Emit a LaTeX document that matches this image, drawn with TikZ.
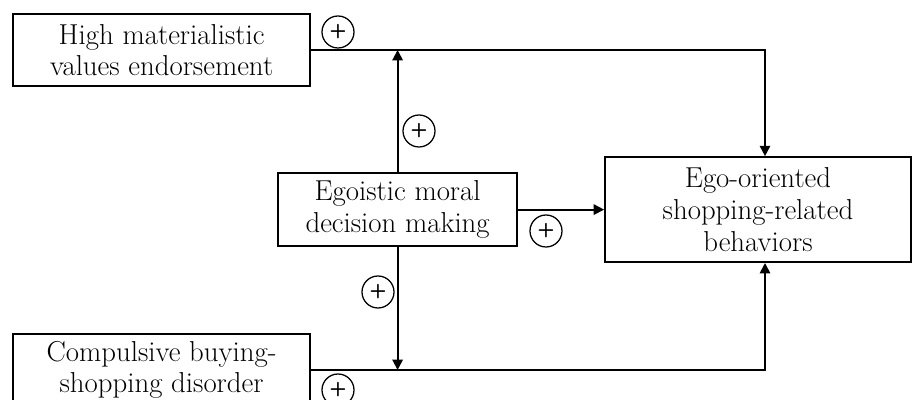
\documentclass[tikz,border=0pt]{standalone}
\usetikzlibrary{arrows.meta}

\begin{document}
\begin{tikzpicture}[line width=1.3pt,
	box/.style={draw, align=center, inner sep=0pt, font=\fontsize{20.5}{22.5}\selectfont},
	sign/.style={draw, circle, line width=0.9pt, minimum size=0.8cm, inner sep=0pt, font=\fontsize{14}{14}\selectfont\sffamily\bfseries},
	arr/.style={-{Triangle[length=2.6mm,width=2.6mm]}}]
			\useasboundingbox (0,0) rectangle (22.825,10);
			\node[box, minimum width=7.425cm, minimum height=1.8cm] (hmv) at (4.04,8.75) {High materialistic\\values endorsement};
			\node[box, minimum width=7.425cm, minimum height=1.8cm] (cbs) at (4.04,0.75) {Compulsive buying-\\shopping disorder};
			\node[box, minimum width=5.975cm, minimum height=1.825cm] (emd) at (9.94,4.76) {Egoistic moral\\decision making};
			\node[box, minimum width=7.65cm, minimum height=2.625cm] (eosb) at (18.95,4.76) {Ego-oriented\\shopping-related\\behaviors};
			\coordinate (tj) at (19.125,8.75);
			\coordinate (bj) at (19.125,0.75);
			\draw[arr] (hmv.east) -- (tj) -- (tj |- eosb.north);
			\draw[arr] (cbs.east) -- (bj) -- (bj |- eosb.south);
			\draw[arr] (emd.north) -- (emd.north |- hmv.east);
			\draw[arr] (emd.south) -- (emd.south |- cbs.east);
			\draw[arr] (emd) -- (eosb);
			\node[sign] (s1) at (8.45,9.2) {+};
			\node[sign] (s2) at (10.475,6.725) {+};
			\node[sign] (s3) at (13.65,4.225) {+};
			\node[sign] (s4) at (9.45,2.7) {+};
			\node[sign] (s5) at (8.45,0.25) {+};
		\end{tikzpicture}
\end{document}
